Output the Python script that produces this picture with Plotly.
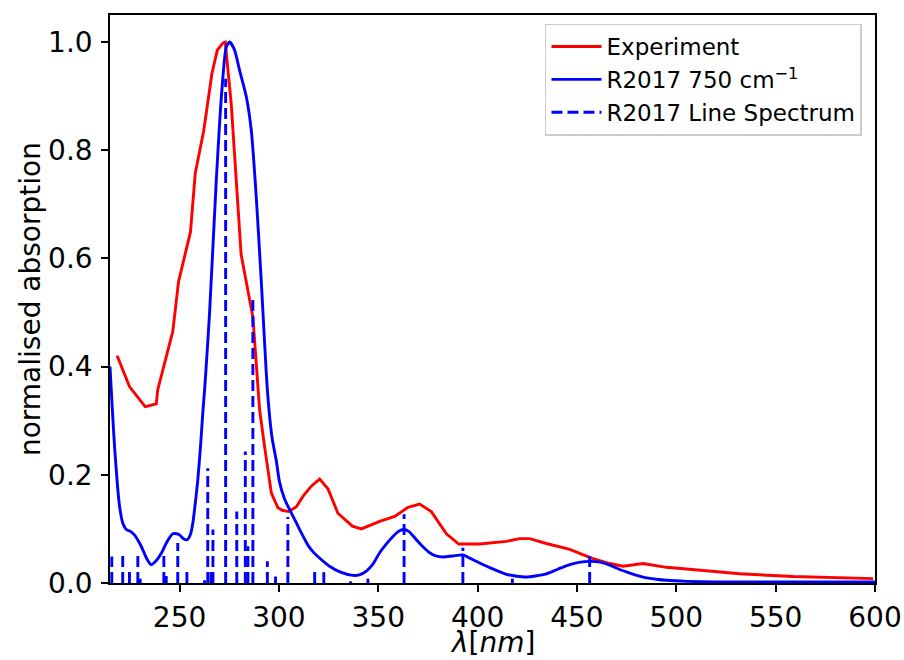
import plotly.graph_objects as go

# Experiment
exp_wl = [218.6, 223.2, 224.8, 232.7, 238.3, 239.0, 246.6, 249.5, 255.5, 257.9, 262.2, 266.3,
          269.0, 271.8, 273.0, 276.0, 281.0, 286.9, 290.3, 292.8, 296.2, 299.5, 302.0, 305.0,
          308.8, 312.1, 316.3, 320.5, 324.7, 329.7, 337.0, 341.5, 350.7, 358.3, 365.0, 370.8,
          376.7, 384.3, 390.5, 401.0, 414.5, 421.2, 426.2, 434.6, 446.4, 457.3, 466.5, 473.2,
          483.3, 495.0, 511.8, 532.0, 558.8, 599.0]
exp_abs = [0.420, 0.375, 0.363, 0.326, 0.331, 0.357, 0.465, 0.557, 0.649, 0.757, 0.837, 0.942,
           0.985, 0.998, 1.000, 0.886, 0.607, 0.492, 0.320, 0.252, 0.166, 0.139, 0.134, 0.132,
           0.141, 0.160, 0.179, 0.192, 0.174, 0.129, 0.105, 0.100, 0.114, 0.123, 0.140, 0.146,
           0.132, 0.091, 0.072, 0.072, 0.077, 0.082, 0.082, 0.073, 0.062, 0.046, 0.036, 0.031,
           0.036, 0.029, 0.023, 0.017, 0.012, 0.008]

# R2017 broadened spectrum
r_wl = [215.0, 217.3, 219.8, 221.5, 223.2, 225.5, 227.3, 230.7, 233.5, 235.7, 238.0, 240.8,
        243.5, 246.6, 248.5, 250.0, 252.0, 253.9, 255.5, 256.7, 258.0, 259.2, 260.5, 261.7,
        262.6, 263.4, 265.1, 268.5, 271.3, 273.5, 275.2, 277.7, 280.2, 283.6, 286.1, 288.6,
        291.1, 294.2, 296.5, 298.7, 300.3, 302.9, 305.5, 308.8, 310.4, 314.6, 317.1, 319.6,
        325.5, 331.0, 337.3, 340.5, 344.0, 347.5, 350.7, 354.0, 357.4, 360.0, 362.8, 365.5,
        369.2, 372.5, 375.9, 379.0, 382.6, 387.5, 392.6, 396.0, 401.0, 407.0, 414.5, 419.0,
        424.6, 429.0, 434.6, 440.0, 446.4, 451.0, 456.4, 461.0, 466.5, 471.5, 477.0, 483.3,
        490.0, 495.0, 505.0, 520.0, 550.0, 600.0]
r_abs = [0.400, 0.252, 0.142, 0.110, 0.099, 0.095, 0.089, 0.068, 0.045, 0.034, 0.040, 0.055,
         0.075, 0.091, 0.091, 0.089, 0.082, 0.080, 0.090, 0.111, 0.150, 0.191, 0.250, 0.314,
         0.357, 0.400, 0.499, 0.745, 0.911, 0.991, 1.000, 0.985, 0.948, 0.899, 0.837, 0.714,
         0.560, 0.357, 0.270, 0.226, 0.187, 0.155, 0.135, 0.111, 0.099, 0.070, 0.058, 0.049,
         0.031, 0.020, 0.014, 0.015, 0.022, 0.036, 0.056, 0.072, 0.086, 0.095, 0.099, 0.095,
         0.080, 0.067, 0.056, 0.050, 0.048, 0.050, 0.052, 0.046, 0.037, 0.027, 0.016, 0.013,
         0.011, 0.013, 0.017, 0.025, 0.034, 0.038, 0.040, 0.039, 0.033, 0.025, 0.018, 0.011,
         0.007, 0.005, 0.003, 0.002, 0.002, 0.002]

# R2017 line spectrum (stick positions and heights)
line_wl = [215.9, 221.4, 224.8, 229.0, 230.2, 242.1, 243.3, 249.1, 253.7, 262.6, 264.2, 265.8,
           266.8, 273.2, 278.8, 283.1, 284.4, 286.9, 294.2, 298.3, 304.5, 318.0, 322.6, 336.0,
           344.8, 363.0, 392.6, 417.5, 456.4]
line_abs = [0.049, 0.056, 0.022, 0.056, 0.008, 0.056, 0.013, 0.074, 0.025, 0.005, 0.212, 0.022,
            0.099, 0.932, 0.132, 0.243, 0.068, 0.524, 0.040, 0.012, 0.122, 0.023, 0.020, 0.003,
            0.008, 0.127, 0.065, 0.008, 0.050]

x_ticks = [250, 300, 350, 400, 450, 500, 550, 600]
y_ticks = [0.0, 0.2, 0.4, 0.6, 0.8, 1.0]

stick_x, stick_y = [], []
for w, a in zip(line_wl, line_abs):
    stick_x += [w, w, None]
    stick_y += [0, a, None]

FONT = "DejaVu Sans"
fig = go.Figure()
fig.add_trace(go.Scatter(x=exp_wl, y=exp_abs, mode="lines", name="Experiment",
                         line=dict(color="#ff0000", width=2.9)))
fig.add_trace(go.Scatter(x=r_wl, y=r_abs, mode="lines", name="R2017 750 cm<sup>−1</sup>",
                         line=dict(color="#0000ff", width=2.9, shape="spline", smoothing=0.6)))
fig.add_trace(go.Scatter(x=stick_x, y=stick_y, mode="lines", name="R2017 Line Spectrum",
                         line=dict(color="#0000ff", width=2.9, dash="11px,5px")))

axis_common = dict(showgrid=False, zeroline=False, showline=True, linecolor="black",
                   linewidth=1.6, mirror=True, ticks="outside", ticklen=7, tickwidth=1.6,
                   tickcolor="black", automargin=False,
                   tickfont=dict(family=FONT, size=28, color="black"))

fig.update_xaxes(range=[215, 600], tickvals=x_ticks, ticktext=[str(v) for v in x_ticks],
                 ticklabelstandoff=2, **axis_common)
fig.update_yaxes(range=[0, 1.05], tickvals=y_ticks, ticktext=[f"{v:.1f}" for v in y_ticks],
                 ticklabelstandoff=3, **axis_common)

# axis titles as annotations for exact placement
fig.add_annotation(text="<i>λ</i>[<i>nm</i>]", xref="paper", yref="paper",
                   x=0.5, y=-0.105, xanchor="center", yanchor="middle", showarrow=False,
                   font=dict(family=FONT, size=28, color="black"))
fig.add_annotation(text="normalised absorption", xref="paper", yref="paper",
                   x=-0.1045, y=0.5, xanchor="center", yanchor="middle", textangle=-90,
                   showarrow=False, font=dict(family=FONT, size=28, color="black"))

fig.update_layout(
    width=904, height=660,
    margin=dict(l=110, r=29, t=15, b=77),
    paper_bgcolor="white", plot_bgcolor="white",
    font=dict(family=FONT, color="black"),
    showlegend=True,
    legend=dict(x=0.983, y=0.985, xanchor="right", yanchor="top",
                bgcolor="rgba(255,255,255,0.8)", bordercolor="#cccccc", borderwidth=1.5,
                font=dict(family=FONT, size=23, color="black"),
                tracegroupgap=0, itemwidth=50),
)

fig.write_html("out.html", post_script="document.body.style.margin='0';",
               config={"displayModeBar": False})
